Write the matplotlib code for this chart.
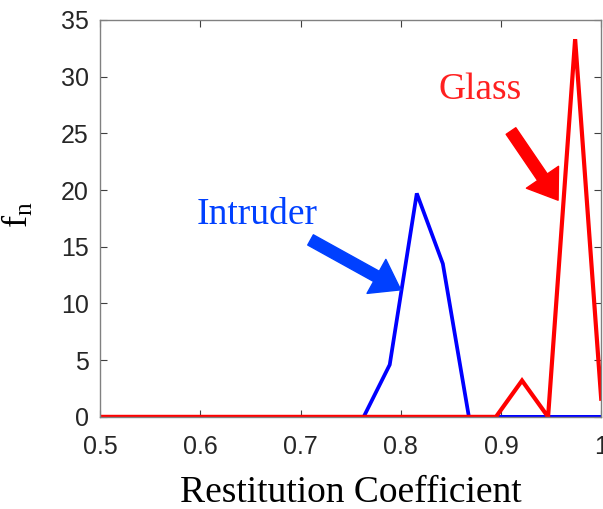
import matplotlib
matplotlib.use('Agg')
import matplotlib.pyplot as plt

# bin centres of the restitution coefficient histogram
coef = [0.500, 0.526, 0.553, 0.579, 0.605, 0.632, 0.658, 0.684, 0.711, 0.737,
        0.763, 0.789, 0.816, 0.842, 0.868, 0.895, 0.921, 0.947, 0.974, 1.000]
fn_intruder = [0, 0, 0, 0, 0, 0, 0, 0, 0, 0,
               0, 4.6, 19.7, 13.5, 0, 0, 0, 0, 0, 0]
fn_glass = [0, 0, 0, 0, 0, 0, 0, 0, 0, 0,
            0, 0, 0, 0, 0, 0, 3.2, 0, 33.3, 1.6]

xticks = [0.5, 0.6, 0.7, 0.8, 0.9, 1.0]
xticklabels = ['0.5', '0.6', '0.7', '0.8', '0.9', '1']
yticks = [0, 5, 10, 15, 20, 25, 30, 35]

fig = plt.figure(figsize=(6.03, 5.09), dpi=100)
ax = fig.add_axes([0.166, 0.181, 0.831, 0.780])

ax.plot(coef, fn_intruder, color='#0000ff', lw=2.7, solid_joinstyle='miter')
ax.plot(coef, fn_glass, color='#ff0000', lw=3.0, solid_joinstyle='miter')

ax.set_xlim(0.5, 1.0)
ax.set_ylim(0, 35)
ax.set_xticks(xticks)
ax.set_xticklabels(xticklabels)
ax.set_yticks(yticks)

for s in ax.spines.values():
    s.set_color('#808080')
    s.set_linewidth(1.0)
ax.tick_params(direction='in', length=5, width=0.8, color='#404040',
               top=True, right=True, labelsize=18, labelcolor='#262626')
ax.tick_params(axis='x', pad=13)
ax.tick_params(axis='y', pad=8)
for lab in ax.get_xticklabels() + ax.get_yticklabels():
    lab.set_family('Liberation Sans')

ax.set_xlabel('Restitution Coefficient', family='Liberation Serif',
              fontsize=27, labelpad=12)
ax.set_ylabel(r'$\mathregular{f_n}$', family='Liberation Serif', fontsize=26)
ax.yaxis.set_label_coords(-0.128, 0.51)

# labels with fat arrows pointing at each peak
ax.text(0.657, 17.8, 'Intruder', color='#0040ff', family='Liberation Serif',
        fontsize=27, ha='center', va='center')
ax.annotate('', xy=(0.800, 11.2), xytext=(0.710, 15.6),
            arrowprops=dict(arrowstyle='simple,head_length=1.0,head_width=1.4,tail_width=0.42',
                            color='#0040ff', shrinkA=0, shrinkB=0, mutation_scale=20))
ax.text(0.879, 28.8, 'Glass', color='#ff2020', family='Liberation Serif',
        fontsize=27, ha='center', va='center')
ax.annotate('', xy=(0.957, 19.1), xytext=(0.910, 25.2),
            arrowprops=dict(arrowstyle='simple,head_length=1.0,head_width=1.4,tail_width=0.42',
                            color='#ff0000', shrinkA=0, shrinkB=0, mutation_scale=20))

fig.savefig('out.png', dpi=100)
